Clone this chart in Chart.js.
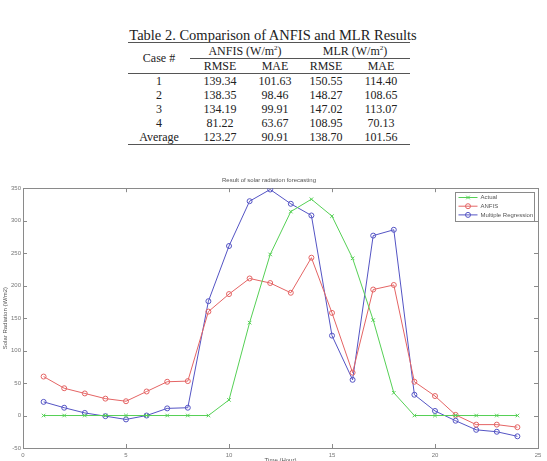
<!DOCTYPE html>
<html>
<head>
<meta charset="utf-8">
<script src="https://cdn.jsdelivr.net/npm/chart.js@4.4.0/dist/chart.umd.min.js"></script>
<style>
body { margin:0; background:#fff; width:547px; height:461px; overflow:hidden; position:relative; font-family:"Liberation Serif","Times New Roman",serif; color:#222; }
#caption { position:absolute; left:0; width:546px; top:27px; text-align:center; font-size:14.5px; line-height:17px; white-space:nowrap; }
#results { position:absolute; left:128px; top:42px; width:282px; border-collapse:collapse; table-layout:fixed; font-size:12px; }
#results td { padding:0; text-align:center; height:14px; line-height:14px; white-space:nowrap; }
#results tr.top td { border-top:1px solid #555; height:15px; }
#results td.grp { border-bottom:1px solid #555; }
#results tr.sub td { border-bottom:1px solid #555; }
#results tr.last td { border-bottom:1px solid #555; }
#results sup { font-size:7px; line-height:0; vertical-align:5px; }
#chartBox { position:absolute; left:0; top:170px; width:547px; height:291px; }
</style>
</head>
<body>
<div id="caption">Table 2. Comparison of ANFIS and MLR Results</div>
<table id="results"></table>
<div id="chartBox"><canvas id="solarChart" width="547" height="291"></canvas></div>
<script>
// table values
var cases = ['1', '2', '3', '4', 'Average'];
var anfisRmse = ['139.34', '138.35', '134.19', '81.22', '123.27'];
var anfisMae = ['101.63', '98.46', '99.91', '63.67', '90.91'];
var mlrRmse = ['150.55', '148.27', '147.02', '108.95', '138.70'];
var mlrMae = ['114.40', '108.65', '113.07', '70.13', '101.56'];

// chart values (hourly)
var hours = [1, 2, 3, 4, 5, 6, 7, 8, 9, 10, 11, 12, 13, 14, 15, 16, 17, 18, 19, 20, 21, 22, 23, 24];
var actual = [0, 0, 0, 0, 0, 0, 0, 0, 0, 24, 143, 248, 314, 333, 307, 242, 147, 35, 0, 0, 0, 0, 0, 0];
var anfis = [60, 42, 34, 26, 22, 37, 52, 53, 160, 187, 211, 204, 189, 243, 158, 66, 194, 201, 52, 30, 1, -14, -14, -18];
var mlr = [21, 12, 4, -1, -6, 0, 11, 12, 176, 261, 330, 348, 326, 308, 123, 55, 277, 286, 32, 7, -8, -22, -25, -32];

// build the table
var tbl = document.getElementById('results');
var html = '<colgroup><col style="width:62px"><col style="width:60px"><col style="width:50px"><col style="width:52px"><col style="width:58px"></colgroup>';
html += '<tr class="top"><td rowspan="2" style="border-bottom:1px solid #555">Case #</td>' +
    '<td colspan="2" class="grp">ANFIS (W/m<sup>2</sup>)</td>' +
    '<td colspan="2" class="grp">MLR (W/m<sup>2</sup>)</td></tr>';
html += '<tr class="sub"><td>RMSE</td><td>MAE</td><td>RMSE</td><td>MAE</td></tr>';
for (var i = 0; i < cases.length; i++) {
    html += '<tr' + (i == cases.length - 1 ? ' class="last"' : '') + '><td>' + cases[i] + '</td><td>' + anfisRmse[i] +
        '</td><td>' + anfisMae[i] + '</td><td>' + mlrRmse[i] + '</td><td>' + mlrMae[i] + '</td></tr>';
}
tbl.innerHTML = html;

function toPoints(vals) {
    return vals.map((v, i) => ({ x: hours[i], y: v }));
}

// box round the plot with inward ticks, matlab style
var framePlugin = {
    id: 'frame',
    beforeDatasetsDraw(chart) {
        var ctx = chart.ctx, a = chart.chartArea;
        var xs = chart.scales.x, ys = chart.scales.y;
        ctx.save();
        ctx.strokeStyle = '#8a8a8a';
        ctx.lineWidth = 1;
        ctx.strokeRect(Math.round(a.left) + 0.5, Math.round(a.top) + 0.5, Math.round(a.right - a.left), Math.round(a.bottom - a.top));
        ctx.beginPath();
        xs.ticks.forEach(t => {
            var px = Math.round(xs.getPixelForValue(t.value)) + 0.5;
            ctx.moveTo(px, a.bottom); ctx.lineTo(px, a.bottom - 4);
            ctx.moveTo(px, a.top); ctx.lineTo(px, a.top + 4);
        });
        ys.ticks.forEach(t => {
            var py = Math.round(ys.getPixelForValue(t.value)) + 0.5;
            ctx.moveTo(a.left, py); ctx.lineTo(a.left + 4, py);
            ctx.moveTo(a.right, py); ctx.lineTo(a.right - 4, py);
        });
        ctx.stroke();
        ctx.restore();
    },
    afterDraw(chart) {
        var ctx = chart.ctx, a = chart.chartArea;
        var x0 = Math.round(a.right - 83) + 0.5, y0 = Math.round(a.top + 4) + 0.5;
        ctx.save();
        ctx.fillStyle = '#fff';
        ctx.fillRect(x0, y0, 79, 29);
        ctx.strokeStyle = '#8a8a8a';
        ctx.lineWidth = 1;
        ctx.strokeRect(x0, y0, 79, 29);
        ctx.font = '6px "Liberation Sans", Arial, sans-serif';
        ctx.textBaseline = 'middle';
        chart.data.datasets.forEach((ds, i) => {
            var y = y0 + 5 + i * 8.7;
            ctx.strokeStyle = ds.borderColor;
            ctx.beginPath();
            ctx.moveTo(x0 + 3, y); ctx.lineTo(x0 + 22, y);
            ctx.stroke();
            ctx.fillStyle = 'rgba(0,0,0,0)';
            Chart.helpers.drawPoint(ctx, { pointStyle: ds.pointStyle, radius: 2.5, rotation: 0, borderWidth: 1 }, x0 + 12.5, y);
            ctx.fillStyle = '#555';
            ctx.fillText(ds.label, x0 + 25, y);
        });
        ctx.restore();
    }
};

var tickFont = { family: '"Liberation Sans", Arial, sans-serif', size: 6 };

var solarChart = new Chart(document.getElementById('solarChart').getContext('2d'), {
    type: 'line',
    data: {
        datasets: [
            { label: 'Actual', data: toPoints(actual), borderColor: '#55d055', pointStyle: 'crossRot' },
            { label: 'ANFIS', data: toPoints(anfis), borderColor: '#e46464', pointStyle: 'circle' },
            { label: 'Multiple Regression', data: toPoints(mlr), borderColor: '#5454c4', pointStyle: 'circle' }
        ].map(d => Object.assign(d, {
            borderWidth: 1,
            pointRadius: 2.5,
            pointBorderWidth: 1,
            pointBorderColor: d.borderColor,
            pointBackgroundColor: 'rgba(0,0,0,0)',
            fill: false,
            tension: 0
        }))
    },
    options: {
        responsive: false,
        animation: false,
        layout: { padding: { left: 0, right: 9, top: 0, bottom: 0 } },
        plugins: {
            legend: { display: false },
            tooltip: { enabled: false },
            title: {
                display: true,
                text: 'Result of solar radiation forecasting',
                color: '#555',
                font: { family: '"Liberation Sans", Arial, sans-serif', size: 6, weight: 'normal' },
                padding: { top: 7, bottom: 4 }
            }
        },
        scales: {
            x: {
                type: 'linear',
                min: 0,
                max: 25,
                ticks: { stepSize: 5, color: '#777', font: tickFont, padding: 4, maxRotation: 0 },
                grid: { display: false, drawTicks: false },
                border: { display: false },
                title: { display: true, text: 'Time (Hour)', color: '#555', font: tickFont, padding: { top: 0, bottom: -3 } },
                afterFit(s) { s.height = 13; }
            },
            y: {
                min: -50,
                max: 350,
                ticks: { stepSize: 50, color: '#777', font: tickFont, padding: 2 },
                grid: { display: false, drawTicks: false },
                border: { display: false },
                title: { display: true, text: 'Solar Radiation (W/m2)', color: '#555', font: tickFont, padding: { top: 1.5, bottom: 0 } },
                afterFit(s) { s.width = 23; }
            }
        }
    },
    plugins: [framePlugin]
});
</script>
</body>
</html>
